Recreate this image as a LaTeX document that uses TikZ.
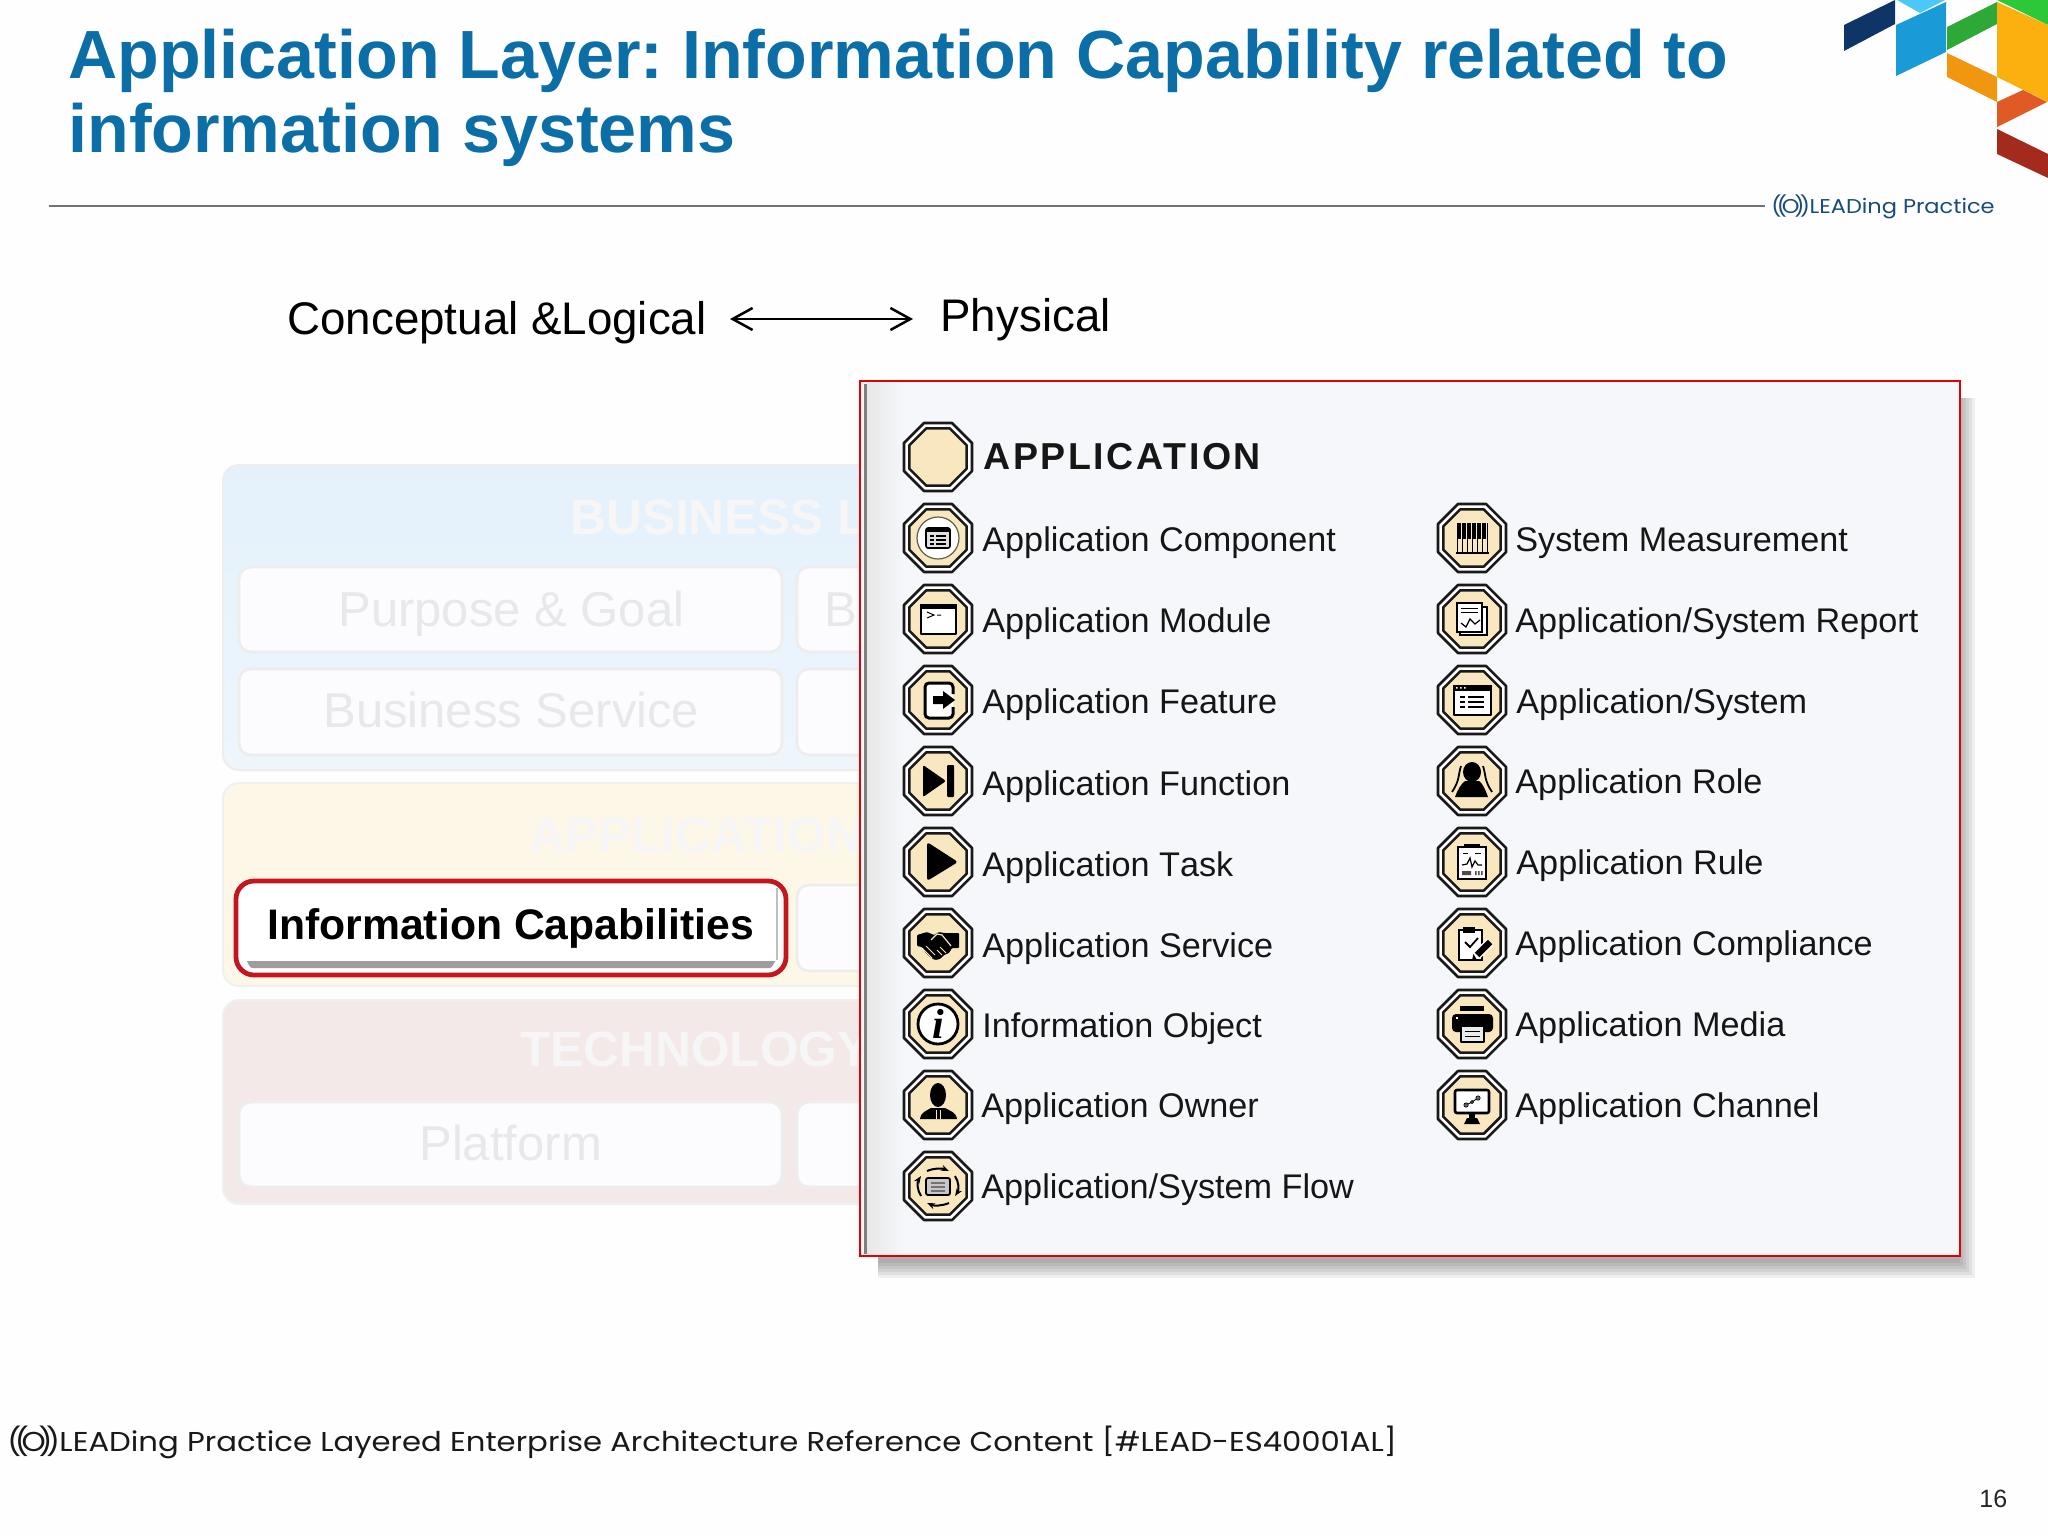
\documentclass[tikz,border=0pt]{standalone}
\usepackage{fontspec}
\setmainfont{Liberation Sans}
\newfontfamily\hdfont[LetterSpace=7]{Liberation Sans}
\newfontfamily\geo[FakeStretch=1.125]{Poppins}
\newfontfamily\serifi{Liberation Serif}
\usetikzlibrary{arrows.meta}
\definecolor{ttl}{HTML}{0B6EA6}
\definecolor{cream}{HTML}{F9E7BF}
\definecolor{navy}{HTML}{1B4B7C}
\definecolor{redb}{HTML}{C4161F}
\definecolor{ghost}{HTML}{E7E8EC}
\definecolor{lbl}{HTML}{161616}
\definecolor{pagebg}{HTML}{FEFEFF}
\definecolor{lgnavy}{HTML}{0F3468}
\definecolor{lgsky}{HTML}{4CC8F8}
\definecolor{lgblue}{HTML}{1A9AD6}
\definecolor{lggreen}{HTML}{2EA836}
\definecolor{lglime}{HTML}{2CC83A}
\definecolor{lgyellow}{HTML}{FBB010}
\definecolor{lgorange}{HTML}{F0960F}
\definecolor{lgredor}{HTML}{E05A25}
\definecolor{lgdred}{HTML}{A52A1E}
\definecolor{bizA}{HTML}{E4F1FB}
\definecolor{bizB}{HTML}{EEF6FC}
\definecolor{appfill}{HTML}{FDF7E8}
\definecolor{tecfill}{HTML}{F3E9E9}
\definecolor{panfill}{HTML}{F6F7FB}
\tikzset{
 lab/.style={anchor=base west,inner sep=0pt,text=lbl,font=\fontsize{17.1}{20}\selectfont},
 ghosttxt/.style={anchor=base west,inner sep=0pt,text=ghost,font=\fontsize{24.5}{28}\selectfont},
 ghosttitle/.style={anchor=base west,inner sep=0pt,text=white!93!gray,font=\fontsize{24.8}{28}\selectfont\bfseries},
 subbox/.style={rounded corners=6pt,draw=black!7,fill=white!99!blue,line width=1.4pt},
 ik/.style={line width=1.3pt,draw=black,line join=round},
 tk/.style={line width=.55pt,draw=black},
 titletxt/.style={anchor=base west,inner sep=0pt,text=ttl,font=\fontsize{34.1}{37}\selectfont\bfseries},
 bigtxt/.style={anchor=base west,inner sep=0pt,font=\fontsize{22.85}{28}\selectfont},
}
\newcommand\octa[1]{(#1,{.414*#1})--({.414*#1},#1)--({-.414*#1},#1)--(-#1,{.414*#1})--(-#1,{-.414*#1})--({-.414*#1},-#1)--({.414*#1},-#1)--(#1,{-.414*#1})--cycle}
\newcommand\appicon[3]{\begin{scope}[shift={(#1,#2)}]
 \draw[fill=white,line width=1.3pt,draw=black!90,line join=round] \octa{34};
 \draw[fill=cream,line width=1.25pt,draw=black!90,line join=round] \octa{28.6};
 #3
 \end{scope}}
\newcommand\leadmark{(\kern-.24em(\kern-.26em O\kern-.26em)\kern-.24em)\kern-.02em LEAD}
\frenchspacing
\begin{document}
\begin{tikzpicture}[x=.5pt,y=-.5pt]
\useasboundingbox (0,0) rectangle (2048,1536);
\fill[pagebg] (0,0) rectangle (2048,1536);
% corner logo
\fill[lgnavy] (1844,25)--(1895,0)--(1895,24)--(1844,51)--cycle;
\fill[lgsky] (1897,0)--(1945,0)--(1920,13)--cycle;
\fill[lgblue] (1896,25)--(1946,2)--(1946,52)--(1896,76)--cycle;
\fill[lggreen] (1947,27)--(1997,2)--(1997,24)--(1947,50)--cycle;
\fill[lglime] (1997,0)--(2048,0)--(2048,25)--cycle;
\fill[lgyellow] (1997,2)--(2048,25)--(2048,102)--(1997,77)--cycle;
\fill[lgorange] (1947,53)--(1997,77)--(1997,102)--(1947,77)--cycle;
\fill[lgredor] (1997,102)--(2023,90)--(2047,102)--(1997,127)--cycle;
\fill[lgdred] (1997,129)--(2048,154)--(2048,178)--(1997,154)--cycle;
% title
\node[titletxt] (title1) at (68,79) {Application Layer: Information Capability related to};
\node[titletxt] (title2) at (68,152) {information systems};
\coordinate (ruleL) at (49,206);
\coordinate (ruleR) at (1765,206);
\draw[line width=1pt,draw=black!55] (ruleL)--(ruleR);
\node[anchor=base west,inner sep=0pt,text=navy,font=\geo\fontsize{10}{12}\selectfont] (logotext) at (1771,213) {\leadmark ing Practice};
% concept
\node[bigtxt] (concept) at (287,334) {Conceptual \&Logical};
\node[bigtxt] (phys) at (940,331) {Physical};
\coordinate (arL) at (730,319);
\coordinate (arR) at (913,319);
\draw[line width=1.25pt,{Straight Barb[length=10pt,width=11pt,line width=1.25pt]}-{Straight Barb[length=10pt,width=11pt,line width=1.25pt]}] (arL)--(arR);
% faded layers
\draw[rounded corners=8pt,draw=black!7,line width=1pt,top color=bizA,bottom color=bizB] (223,465) rectangle (900,770);
\draw[rounded corners=8pt,draw=black!6,line width=1pt,fill=appfill] (223,783) rectangle (900,986);
\draw[rounded corners=8pt,draw=black!6,line width=1pt,fill=tecfill] (223,1000) rectangle (900,1204);
\node[ghosttitle] (tbiz) at (570,534) {BUSINESS L};
\node[ghosttitle] (tapp) at (529,852) {APPLICATION};
\node[ghosttitle] (ttec) at (520,1066) {TECHNOLOGY};
\draw[subbox] (239,567) rectangle (782,652);
\draw[subbox] (239,669) rectangle (782,755);
\draw[subbox] (797,567) rectangle (900,652);
\draw[subbox] (797,669) rectangle (900,755);
\draw[subbox] (797,885) rectangle (900,971);
\draw[subbox] (239,1102) rectangle (782,1187);
\draw[subbox] (797,1102) rectangle (900,1187);
\node[ghosttxt] (g1) at (338,626) {Purpose \& Goal};
\node[ghosttxt] (g2) at (824,626) {B};
\node[ghosttxt] (g3) at (323,727) {Business Service};
\node[ghosttxt] (g4) at (419,1160) {Platform};
% info cap
\draw[rounded corners=9pt,line width=2.4pt,draw=redb,fill=white] (236,881) rectangle (786,975);
\fill[black!38] (247,961) -- (775,961) -- (775,962) to[out=90,in=0] (770,968) -- (252,968) to[out=180,in=90] (247,962) -- cycle;
\draw[line width=.6pt,black!25] (777,888)--(777,960);
\node[anchor=base west,inner sep=0pt,font=\fontsize{21.35}{25}\selectfont\bfseries] (ic) at (267,939) {Information Capabilities};
% panel shadow
\foreach \k in {0,3,6,9,12,15}{
  \fill[black,opacity=.06] (878,398) rectangle ({1975-\k},{1278-\k});
}
\draw[line width=1.25pt,draw=red!90!black,fill=panfill] (860,381) rectangle (1960,1256);
\shade[left color=black!9,right color=panfill] (867,383) rectangle (905,1254);
\fill[black!50] (864,384) rectangle (867,1254);
% header
\appicon{938}{457}{}
\node[anchor=base west,inner sep=0pt,text=lbl,font=\hdfont\fontsize{18.75}{22}\selectfont\bfseries] (apphead) at (983,469) {APPLICATION};
% left column
\appicon{938}{538}{
 \draw[fill=white,draw=black!60!cream,line width=.6pt] (0,0) circle (21);
 \draw[fill=black!12,line width=.8pt,rounded corners=1pt] (-12,-10) rectangle (12,10);
 \fill (-12,-10) rectangle (12,-6);
 \draw[line width=.6pt] (-8,-2)--(-4,-2) (-2,-2)--(8,-2) (-8,2)--(-4,2) (-2,2)--(8,2) (-8,6)--(-4,6) (-2,6)--(8,6);}
\node[lab] (l1) at (982,551) {Application Component};
\appicon{938}{619}{
 \draw[fill=white,ik] (-17,-14) rectangle (18,15);
 \fill (-18,-15) rectangle (19,-10);
 \draw[line width=.5pt] (-11,-7)--(-4,-4)--(-11,-1) (-1,-4)--(3,-4);}
\node[lab] (l2) at (982,632) {Application Module};
\appicon{938}{700}{
 \draw[fill=white,line width=1.5pt,rounded corners=2pt] (15,-6)--(15,-17)--(-13,-17)--(-13,18)--(15,18)--(15,7);
 \fill (-5,-4)--(5,-4)--(5,-9)--(17,0)--(5,9)--(5,4)--(-5,4)--cycle;}
\node[lab] (l3) at (982,713) {Application Feature};
\appicon{938}{781}{
 \fill[rounded corners=1pt] (-15,-16)--(8,0)--(-15,16)--cycle;
 \fill[rounded corners=.5pt] (9,-16) rectangle (16,16);}
\node[lab] (l4) at (982,795) {Application Function};
\appicon{938}{862}{
 \fill[rounded corners=1.5pt] (-11,-20)--(20,0)--(-11,19)--cycle;}
\node[lab,font=\fontsize{17.1}{20}\selectfont\addfontfeature{Kerning=Off}] (l5) at (982,876) {Application Task};
\appicon{938}{943}{
 \fill[rounded corners=.5pt] (-21,-8)--(-11,-11)--(-4,-8)--(1,-11)--(6,-10)--(13,-10)--(21,-10)--(21,5)--(14,5)--(11,10)--(6,12)--(2,16)--(-3,17)--(-8,14)--(-13,9)--(-16,4)--(-21,3)--cycle;
 \draw[cream,line width=.6pt] (-7,-3)--(-1,-9)--(4,-8)--(13,3);
 \draw[cream,line width=.5pt] (-16,5)--(-6,15) (-12,3)--(-3,12) (2,4)--(8,10) (-1,7)--(4,12);}
\node[lab] (l6) at (982,957) {Application Service};
\appicon{938}{1024}{
 \draw[fill=white,line width=1.4pt] (0,0) circle (20);
 \node[inner sep=0pt,font=\serifi\fontsize{21}{21}\selectfont\bfseries\itshape] (iglyph) at (0,0) {i};}
\node[lab] (l7) at (982,1037) {Information Object};
\appicon{938}{1105}{
 \fill (0,-10) ellipse (8 and 12);
 \fill (-18,14) .. controls (-17,7) and (-12,6) .. (-7,3) -- (7,3) .. controls (12,6) and (18,7) .. (19,14) -- cycle;
 \draw[cream,line width=.35pt] (-2,5)--(-2,14) (2,5)--(2,14);}
\node[lab] (l8) at (981,1117) {Application Owner};
\appicon{938}{1186}{
 \draw[fill=black!22,line width=.9pt,rounded corners=1pt] (-12,-8) rectangle (12,9);
 \draw[line width=.6pt,black!55] (-7,-3)--(7,-3) (-7,1)--(7,1) (-7,5)--(7,5);
 \draw[line width=1pt,-{Stealth[length=4pt]}] (-11,-15) .. controls (-4,-18) and (4,-18) .. (11,-15);
 \draw[line width=1pt,-{Stealth[length=4pt]}] (11,17) .. controls (4,20) and (-4,20) .. (-11,17);
 \draw[line width=1pt,-{Stealth[length=4pt]}] (-17,10) .. controls (-21,4) and (-21,-4) .. (-17,-10);
 \draw[line width=1pt,-{Stealth[length=4pt]}] (17,-10) .. controls (21,-4) and (21,4) .. (17,10);}
\node[lab] (l9) at (981,1198) {Application/System Flow};
% right column
\appicon{1472}{538}{
 \draw[line width=.35pt] (-15,-15)--(-15,15);
 \foreach \i in {-10,-5,0,5,10,15}{\draw[line width=.35pt] (\i,-15)--(\i,15);}
 \foreach \i in {-12.5,-7.5,-2.5,2.5,7.5,12.5}{\fill (\i-1.1,-15) rectangle (\i+1.1,1);}
 \draw[line width=.7pt] (-16,15)--(17,15);}
\node[lab] (r1) at (1515,551) {System Measurement};
\appicon{1472}{619}{
 \draw[fill=white,tk] (-12,-12) rectangle (15,16);
 \draw[fill=white,line width=.7pt] (-15,-16) rectangle (10,13);
 \draw[line width=.5pt] (-11,-11)--(6,-11) (-11,-7)--(6,-7);
 \draw[line width=.6pt] (-11,4)--(-6,8)--(-2,0)--(3,5)--(8,1);}
\node[lab] (r2) at (1515,632) {Application/System Report};
\appicon{1472}{700}{
 \draw[fill=white,ik] (-18,-14) rectangle (19,15);
 \fill (-19,-15) rectangle (20,-9);
 \fill[white] (-16,-13) rectangle (-14.5,-11.5) (-12,-13) rectangle (-10.5,-11.5) (-8,-13) rectangle (-6.5,-11.5);
 \draw[line width=.8pt] (-12,-3)--(-7,-3) (-4,-3)--(12,-3) (-12,2)--(-7,2) (-4,2)--(12,2) (-12,7)--(-7,7) (-4,7)--(12,7);}
\node[lab] (r3) at (1516,713) {Application/System};
\appicon{1472}{781}{
 \fill (0,-9) ellipse (9 and 10);
 \fill (-17,16) .. controls (-14,8) and (-11,3) .. (-7,0) -- (7,0) .. controls (11,3) and (13,8) .. (16,16) -- cycle;
 \draw[line width=.9pt] (-11,-15) .. controls (-14,-6) and (-12,-1) .. (-20,11) (11,-15) .. controls (14,-6) and (12,-1) .. (20,11);}
\node[lab] (r4) at (1515,793) {Application Role};
\appicon{1472}{862}{
 \draw[fill=white,line width=1pt] (-14,-15) rectangle (14,17);
 \fill (-8,-18) rectangle (8,-14);
 \draw[line width=.4pt] (-9,-9)--(-4,-9) (3,-9)--(9,-9);
 \draw[line width=.6pt] (-10,3)--(-5,2)--(-2,-4)--(0,5)--(3,-1)--(6,3)--(10,3);
 \fill[black!70] (-10,9) rectangle (-1,13) (3,9) rectangle (4.5,13) (6,9) rectangle (7.5,13) (9,9) rectangle (10.5,13);}
\node[lab] (r5) at (1516,874) {Application Rule};
\appicon{1472}{943}{
 \draw[fill=white,line width=.9pt] (-13,-13) rectangle (10,17);
 \fill (-9,-16) rectangle (3,-10);
 \draw[line width=.9pt] (-7,-1)--(-2,4)--(6,-5);
 \draw[white,line width=4.6pt] (18,-1)--(4,13);
 \draw[line width=3.2pt] (18,-1)--(5,12);
 \fill (5,17)--(0,17)--(1.5,11)--cycle;}
\node[lab] (r6) at (1515,955) {Application Compliance};
\appicon{1472}{1024}{
 \fill (-12,-18) rectangle (12,-13);
 \fill[rounded corners=2pt] (-20,-10) rectangle (21,8);
 \fill[white] (-16,-7) rectangle (-14,-5);
 \draw[fill=black!8,ik] (-11,2) rectangle (12,18);
 \draw[line width=.5pt] (-7,7)--(8,7) (-7,12)--(8,12);}
\node[lab] (r7) at (1515,1036) {Application Media};
\appicon{1472}{1105}{
 \draw[fill=white,ik,rounded corners=1pt] (-17,-15) rectangle (17,8);
 \fill (-3,8) rectangle (3,13);
 \fill (-8,19)--(-5,13)--(5,13)--(8,19)--cycle;
 \draw[line width=.45pt] (-6,0)--(0,-3)--(6,-7);
 \draw[fill=black!60,line width=.3pt] (-6,0) circle (2.2) (0,-3) circle (1.6) (6,-7) circle (2.2);}
\node[lab] (r8) at (1515,1117) {Application Channel};
% footer
\node[anchor=base west,inner sep=0pt,text=black!90,font=\geo\fontsize{13.65}{15}\selectfont] (foot) at (7,1451) {\leadmark ing Practice Layered Enterprise Architecture Reference Content [\#LEAD-ES40001AL]};
\node[anchor=base west,inner sep=0pt,text=black!85,font=\fontsize{12.5}{15}\selectfont] (pageno) at (1979,1507) {16};
\end{tikzpicture}
\end{document}
